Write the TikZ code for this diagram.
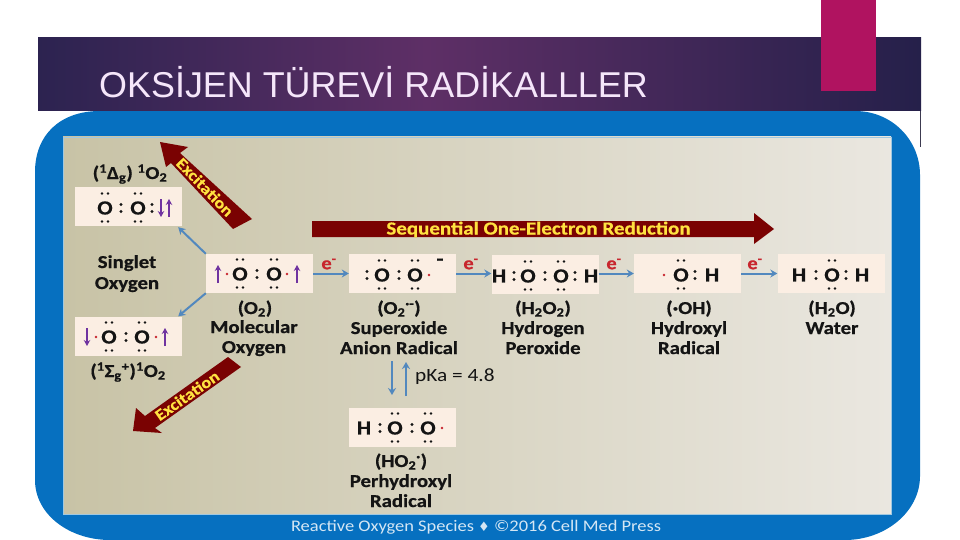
\documentclass[tikz,border=0pt]{standalone}
\usepackage{fontspec}
\setmainfont{Carlito}[FakeStretch=1.14,BoldFeatures={FakeBold=0.6}]
\newfontfamily\titlefont{Liberation Sans}
\newfontfamily\symfont{DejaVu Sans}
\usetikzlibrary{arrows.meta}
\definecolor{panelblue}{HTML}{0670C0}
\definecolor{boxfill}{HTML}{FBEEE3}
\definecolor{maroon}{HTML}{7A0202}
\definecolor{gold}{HTML}{FFE240}
\definecolor{conn}{HTML}{5288BE}
\definecolor{elec}{HTML}{C8262E}
\definecolor{spin}{HTML}{7033A0}
\definecolor{ink}{HTML}{141414}
\definecolor{magentabar}{HTML}{B01360}
\definecolor{titletext}{HTML}{F5E6FA}
\definecolor{banL}{HTML}{2C2350}
\definecolor{banM}{HTML}{5E2F66}
\definecolor{banR}{HTML}{25204A}
\definecolor{panL}{HTML}{C8C3A6}
\definecolor{panR}{HTML}{EAE7E0}
\definecolor{panEdge}{HTML}{A0C8E1}
\definecolor{sideline}{HTML}{3C3A50}
\definecolor{foottext}{HTML}{D4E6F4}
\pgfdeclarehorizontalshading{bannershade}{100bp}{color(0bp)=(banL);color(25bp)=(banL);color(47bp)=(banM);color(75bp)=(banR);color(100bp)=(banR)}
\tikzset{
  x=1pt,y=-1pt,
  lewisbox/.style={fill=boxfill,draw=none,minimum width=107pt,minimum height=39pt,inner sep=0pt},
  atom/.style={font=\bfseries\fontsize{20}{20}\selectfont,text=ink,inner sep=0pt},
  lab/.style={font=\bfseries\fontsize{18.2}{18.2}\selectfont,text=ink,inner sep=0pt,align=center,text height=12pt,text depth=0pt},
  enode/.style={font=\bfseries\fontsize{18}{18}\selectfont,text=elec,inner sep=0pt},
  band/.style={font=\bfseries\fontsize{18.4}{18.4}\selectfont,text=gold,inner sep=0pt},
  bandsmall/.style={font=\bfseries\fontsize{16}{16}\selectfont,text=gold,inner sep=0pt},
  reaction/.style={draw=conn,line width=2pt,-{Stealth[length=7pt,width=8pt]}},
  spinarrow/.style={draw=spin,line width=1.2pt,-{Stealth[length=6pt,width=6.5pt]}},
  blockarrow/.style={fill=maroon,draw=none},
}
\newcommand{\oxy}[3]{%
  \node[atom] (#1) at (#2,#3) {O};
  \fill[ink] (#2-3,#3-14.5) circle (1.35pt) (#2+3,#3-14.5) circle (1.35pt)
             (#2-3,#3+13.5) circle (1.35pt) (#2+3,#3+13.5) circle (1.35pt);}
\newcommand{\col}[2]{\fill[ink] (#1,#2-3.5) circle (1.6pt) (#1,#2+3.5) circle (1.6pt);}
\newcommand{\rdot}[2]{\fill[elec] (#1,#2) circle (1.4pt);}
\newcommand{\spinup}[2]{\draw[spinarrow] (#1,#2+9) -- (#1,#2-9);}
\newcommand{\spindown}[2]{\draw[spinarrow] (#1,#2-9) -- (#1,#2+9);}
\begin{document}
\begin{tikzpicture}
\useasboundingbox (0,0) rectangle (960,540);
% blue plate
\fill[panelblue] (35,172) .. controls (35,135) and (60,111) .. (100,111) -- (855,111)
  .. controls (892,111) and (920,140) .. (920,175) -- (920,476)
  .. controls (920,512) and (885,540) .. (845,540) -- (110,540)
  .. controls (70,540) and (35,515) .. (35,480) -- cycle;
\shade[left color=panL,right color=panR] (63,137) rectangle (891,514);
\draw[color=panEdge,line width=.6pt] (63,137) rectangle (891,514);
% banner
\shade[shading=bannershade] (38,38) rectangle (921,111);
\draw[color=sideline,line width=.8pt] (920.3,111) -- (920.3,147);
\fill[magentabar] (821,0) rectangle (876,91);
\node[font=\titlefont\fontsize{35.9}{35.9}\selectfont,text=titletext,anchor=west,inner sep=0pt] (title) at (99,82.5) {OKSİJEN TÜREVİ RADİKALLLER};
% block arrows
\fill[blockarrow] (312,221) -- (754,221) -- (754,213) -- (774,229) -- (754,244) -- (754,237) -- (312,237) -- cycle;
\node[band] (seq) at (538.5,229.5) {Sequential One-Electron Reduction};
\fill[blockarrow] (160,142) -- (188,147) -- (180,153) -- (252,219) -- (233,229) -- (171,163) -- (166,167) -- cycle;
\node[bandsmall,rotate=-46] (exa) at (205,187) {Excitation};
\fill[blockarrow] (133,431) -- (136,408) -- (145,416) -- (228,357) -- (241,367) -- (155,428) -- (162,433) -- cycle;
\node[bandsmall,rotate=35] (exb) at (187,395.5) {Excitation};
% boxes
\node[lewisbox] (sa) at (128.5,206.5) {};
\node[lewisbox] (sb) at (128.5,336) {};
\node[lewisbox] (mol) at (259.5,273.5) {};
\node[lewisbox] (sup) at (402.5,273.5) {};
\node[lewisbox] (per) at (545,274.5) {};
\node[lewisbox] (hyd) at (687.5,273.5) {};
\node[lewisbox] (wat) at (831,273.5) {};
\node[lewisbox] (pho) at (402.5,427) {};
% connectors
\draw[reaction] (mol.north west) -- ([xshift=-4pt,yshift=-1pt]sa.south east);
\draw[reaction] (mol.south west) -- ([xshift=-4pt,yshift=0pt]sb.north east);
\draw[reaction] (mol.east) -- (sup.west);
\draw[reaction] (sup.east) -- (per.west |- sup.east);
\draw[reaction] (per.east |- hyd.west) -- (hyd.west);
\draw[reaction] (hyd.east) -- (wat.west);
\draw[reaction] (392,361) -- (392,395);
\draw[reaction] (406,396) -- (406,362);
% singlet delta
\oxy{sa1}{105}{208}\oxy{sa2}{138}{208}\col{121}{208}\col{152}{208}
\spindown{161}{208}\spinup{169}{208}
% singlet sigma
\oxy{sb1}{109}{337}\oxy{sb2}{142}{337}\col{126}{337}
\spindown{87}{337}\rdot{96}{337}\rdot{156}{337}\spinup{165}{337}
% molecular oxygen
\oxy{m1}{240}{274}\oxy{m2}{274}{274}\col{257}{274}
\spinup{218}{274}\rdot{227}{274}\rdot{287}{274}\spinup{297}{274}
% superoxide
\col{367}{275}\oxy{s1}{382}{275}\col{399}{275}\oxy{s2}{415}{275}\rdot{429}{275}
\node[atom] (minus) at (440,262) {-};
% peroxide
\node[atom] (p1) at (499,276) {H};\col{514}{276}\oxy{p2}{528}{276}\col{545}{276}\oxy{p3}{561}{276}\col{575}{276}\node[atom] (p4) at (591,276) {H};
% hydroxyl
\rdot{664}{275}\oxy{h1}{681}{275}\col{695}{275}\node[atom] (h2) at (712,275) {H};
% water
\node[atom] (w1) at (799,275) {H};\col{816}{275}\oxy{w2}{832}{275}\col{846}{275}\node[atom] (w3) at (862,275) {H};
% perhydroxyl
\node[atom] (q1) at (364,428) {H};\col{380}{428}\oxy{q2}{395}{428}\col{412}{428}\oxy{q3}{428}{428}\rdot{442}{428}
% electrons
\node[enode] (e1) at (329,264) {e\textsuperscript{-}};
\node[enode] (e2) at (471,264) {e\textsuperscript{-}};
\node[enode] (e3) at (614,264) {e\textsuperscript{-}};
\node[enode] (e4) at (755,264) {e\textsuperscript{-}};
% labels
\node[lab] (la) at (130,173) {(\textsuperscript{1}Δ\textsubscript{g}) \textsuperscript{1}O\textsubscript{2}};
\node[lab] (lb) at (128,371) {(\textsuperscript{1}Σ\textsubscript{g}\textsuperscript{+})\textsuperscript{1}O\textsubscript{2}};
\node[lab] (ls1) at (127,262) {Singlet};
\node[lab] (ls2) at (127,283) {Oxygen};
\node[lab] (lm1) at (255,308) {(O\textsubscript{2})};
\node[lab] (lm2) at (254,327) {Molecular};
\node[lab] (lm3) at (254,347) {Oxygen};
\node[lab] (ln1) at (399,308) {(O\textsubscript{2}\textsuperscript{·-})};
\node[lab] (ln2) at (399,328) {Superoxide};
\node[lab] (ln3) at (399,348) {Anion Radical};
\node[lab] (lp1) at (543,308) {(H\textsubscript{2}O\textsubscript{2})};
\node[lab] (lp2) at (543,328) {Hydrogen};
\node[lab] (lp3) at (543,348) {Peroxide};
\node[lab] (lh1) at (689,308) {(·OH)};
\node[lab] (lh2) at (689,328) {Hydroxyl};
\node[lab] (lh3) at (689,348) {Radical};
\node[lab] (lw1) at (832,308) {(H\textsubscript{2}O)};
\node[lab] (lw2) at (832,328) {Water};
\node[lab] (lq1) at (401,461) {(HO\textsubscript{2}\textsuperscript{·})};
\node[lab] (lq2) at (401,481) {Perhydroxyl};
\node[lab] (lq3) at (401,501) {Radical};
\node[font=\fontsize{18.7}{18.7}\selectfont,text=ink,anchor=west,inner sep=0pt] (pk) at (415,377) {pKa = 4.8};
\node[font=\fontsize{16.2}{16.2}\selectfont,text=foottext,inner sep=0pt] (foot) at (476,527) {Reactive Oxygen Species {\symfont\fontsize{13}{13}\selectfont ♦} ©2016 Cell Med Press};
\end{tikzpicture}
\end{document}
